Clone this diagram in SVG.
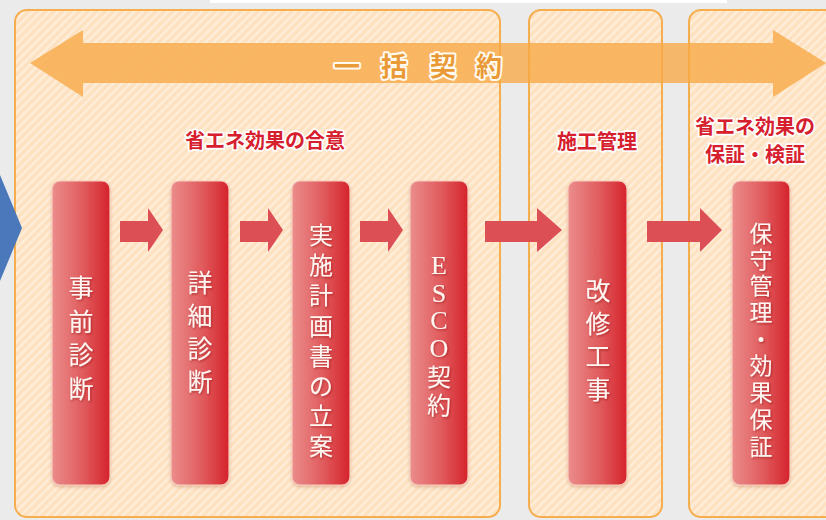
<svg xmlns="http://www.w3.org/2000/svg" width="826" height="520" viewBox="0 0 826 520">
  <defs>
    <pattern id="stripes" width="6" height="6" patternUnits="userSpaceOnUse" patternTransform="rotate(45)">
      <rect width="6" height="6" fill="#fde1c0"/>
      <rect width="2.6" height="6" fill="#feedd8"/>
    </pattern>
    <linearGradient id="barGrad" x1="0" y1="0" x2="1" y2="0">
      <stop offset="0" stop-color="#eb8d8c"/>
      <stop offset="0.55" stop-color="#e05a5c"/>
      <stop offset="1" stop-color="#d5232c"/>
    </linearGradient>
    <filter id="txtShadow" x="-30%" y="-30%" width="160%" height="160%">
      <feDropShadow dx="1" dy="1.2" stdDeviation="0.8" flood-color="#8a1010" flood-opacity="0.55"/>
    </filter>
    <filter id="barShadow" x="-20%" y="-5%" width="140%" height="110%">
      <feDropShadow dx="0" dy="2" stdDeviation="1.5" flood-color="#c07050" flood-opacity="0.35"/>
    </filter>
  </defs>
  <style>
    .panel { fill: url(#stripes); stroke: #f6ad4e; stroke-width: 2; }
    .bar { fill: url(#barGrad); stroke: #f7cdbd; stroke-width: 1.2; filter: url(#barShadow); }
    .bt { font-family: "Noto Sans CJK JP", sans-serif; font-size: 25px; fill: #fff6f2; text-anchor: middle; dominant-baseline: central; filter: url(#txtShadow); }
    .tight { font-size: 24px; }
    .tighter { font-size: 23px; }
    .bl { font-family: "Liberation Serif", "Noto Sans CJK JP", serif; font-size: 26px; }
    .head { font-family: "Noto Sans CJK JP", sans-serif; font-size: 20px; font-weight: bold; fill: #d6202e; stroke: #ffffff; stroke-width: 3.5; stroke-linejoin: round; paint-order: stroke; text-anchor: middle; dominant-baseline: central; }
    .big { font-family: "Noto Sans CJK JP", sans-serif; font-size: 26px; font-weight: bold; fill: #e99a36; stroke: #fffaf0; stroke-width: 4; stroke-linejoin: round; paint-order: stroke; text-anchor: middle; dominant-baseline: central; }
    .step { fill: #dc4f55; }
  </style>

  <rect x="0" y="0" width="826" height="520" fill="#ebebeb"/>
  <rect x="210" y="0" width="517" height="3" fill="#ffffff"/>

  <g id="panel-agreement">
    <rect class="panel" x="15" y="10" width="485" height="507" rx="12"/>
  </g>
  <g id="panel-construction">
    <rect class="panel" x="529" y="10" width="133" height="507" rx="12"/>
  </g>
  <g id="panel-guarantee">
    <rect class="panel" x="689" y="10" width="150" height="507" rx="12"/>
  </g>

  <g id="chevron">
    <polygon points="-30,175 0,175 22,228 0,281 -30,281" fill="#4a78bb"/>
  </g>

  <g id="connectors">
    <polygon id="lump-sum-arrow" points="30,63 83,30 83,43 773,43 773,30 826,63 773,97 773,83 83,83 83,97" fill="#f7a844" fill-opacity="0.78"/>
    <polygon class="step" points="120,221 148,221 148,208 163,230 148,252 148,242 120,242"/>
    <polygon class="step" points="240,221 268,221 268,208 283,230 268,252 268,242 240,242"/>
    <polygon class="step" points="360,221 388,221 388,208 403,230 388,252 388,242 360,242"/>
    <polygon class="step" points="485,221 537,221 537,208 562,230 537,252 537,242 485,242"/>
    <polygon class="step" points="647,221 700,221 700,208 722,230 700,252 700,242 647,242"/>
  </g>

  <g id="label-lump-sum">
    <text class="big" x="347" y="64">一</text>
    <text class="big" x="394" y="64">括</text>
    <text class="big" x="443" y="64">契</text>
    <text class="big" x="489" y="64">約</text>
  </g>

  <g id="heading-agreement">
    <text class="head" x="265" y="139">省エネ効果の合意</text>
  </g>
  <g id="heading-construction">
    <text class="head" x="597" y="140">施工管理</text>
  </g>
  <g id="heading-guarantee">
    <text class="head" x="755" y="125">省エネ効果の</text>
    <text class="head" x="755" y="153">保証・検証</text>
  </g>

  <g id="step-preliminary">
    <rect class="bar" x="52" y="181" width="58" height="304" rx="8"/>
    <text class="bt"><tspan x="81" y="286">事</tspan><tspan x="81" y="319.5">前</tspan><tspan x="81" y="353">診</tspan><tspan x="81" y="386.5">断</tspan></text>
  </g>
  <g id="step-detailed">
    <rect class="bar" x="171" y="181" width="58" height="304" rx="8"/>
    <text class="bt"><tspan x="200" y="281">詳</tspan><tspan x="200" y="314">細</tspan><tspan x="200" y="347">診</tspan><tspan x="200" y="380">断</tspan></text>
  </g>
  <g id="step-plan">
    <rect class="bar" x="292" y="181" width="58" height="304" rx="8"/>
    <text class="bt tight"><tspan x="321" y="233">実</tspan><tspan x="321" y="263">施</tspan><tspan x="321" y="293">計</tspan><tspan x="321" y="323.5">画</tspan><tspan x="321" y="354">書</tspan><tspan x="321" y="384">の</tspan><tspan x="321" y="414">立</tspan><tspan x="321" y="444">案</tspan></text>
  </g>
  <g id="step-esco">
    <rect class="bar" x="410" y="181" width="58" height="304" rx="8"/>
    <text class="bt tight"><tspan class="bl" x="439" y="265">E</tspan><tspan class="bl" x="439" y="293">S</tspan><tspan class="bl" x="439" y="320">C</tspan><tspan class="bl" x="439" y="348">O</tspan><tspan x="439" y="375">契</tspan><tspan x="439" y="403">約</tspan></text>
  </g>
  <g id="step-renovation">
    <rect class="bar" x="568" y="181" width="59" height="304" rx="8"/>
    <text class="bt"><tspan x="598" y="289">改</tspan><tspan x="598" y="322">修</tspan><tspan x="598" y="355">工</tspan><tspan x="598" y="388">事</tspan></text>
  </g>
  <g id="step-maintenance">
    <rect class="bar" x="732" y="181" width="58" height="304" rx="8"/>
    <text class="bt tighter"><tspan x="761" y="232">保</tspan><tspan x="761" y="258">守</tspan><tspan x="761" y="284">管</tspan><tspan x="761" y="311">理</tspan><tspan x="761" y="338">・</tspan><tspan x="761" y="364">効</tspan><tspan x="761" y="391">果</tspan><tspan x="761" y="418">保</tspan><tspan x="761" y="445">証</tspan></text>
  </g>
</svg>
